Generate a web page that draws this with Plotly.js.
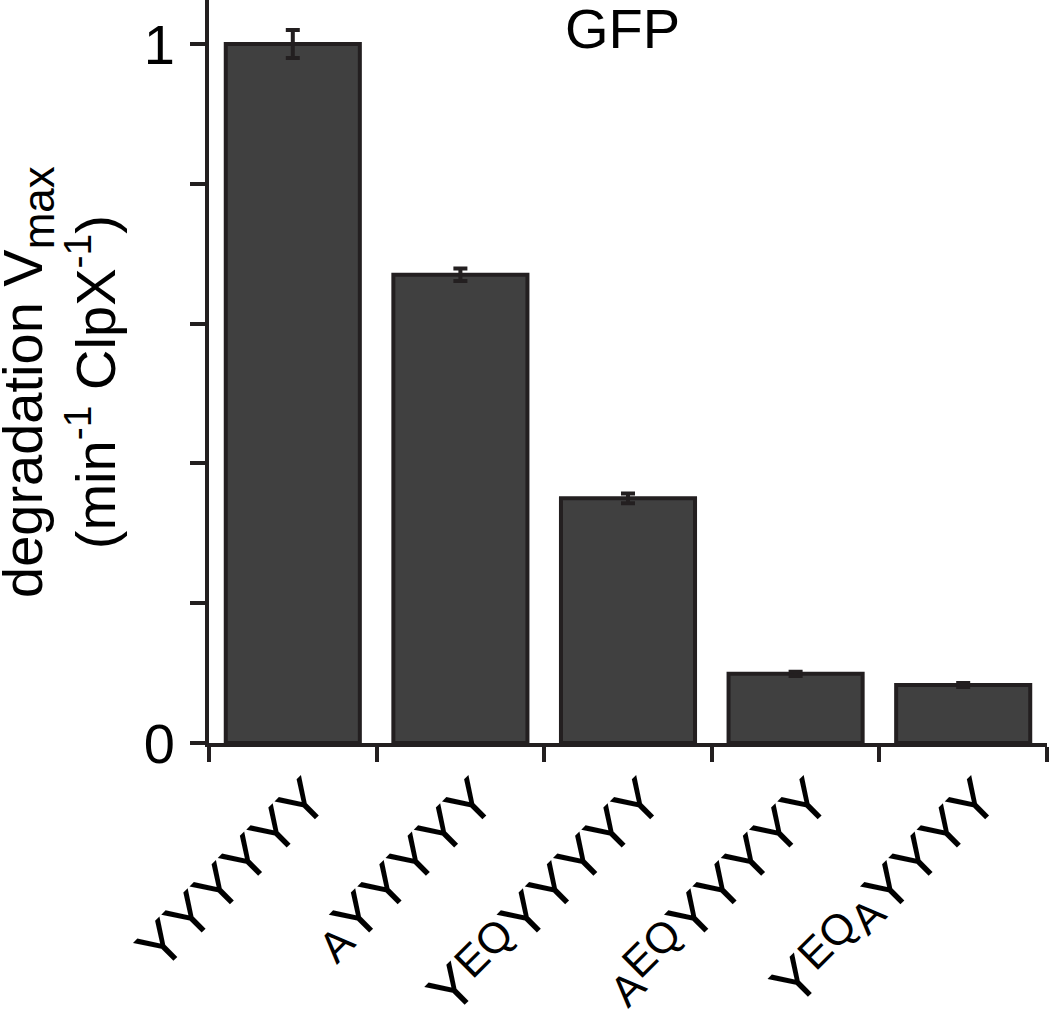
<!DOCTYPE html>
<html>
<head>
<meta charset="utf-8">
<script src="https://cdn.plot.ly/plotly-3.0.1.min.js"></script>
<style>
html,body{margin:0;padding:0;background:#fff;}
#chart{width:1050px;height:1018px;}
</style>
</head>
<body>
<div id="chart"></div>
<script>
// Data
const SMALL = '<span style="font-size:43px">';
const RAISED = '<span style="font-size:43px;baseline-shift:12px">';
const END = '</span>';
const categories = [
  "YYYYYY",
  SMALL + "A" + END + "YYYYY",
  "Y" + RAISED + "EQ" + END + "YYYYY",
  SMALL + "A" + END + RAISED + "EQ" + END + "YYYYY",
  "Y" + RAISED + "EQ" + END + SMALL + "A" + END + "YYYY"
];
const vmax = [1.0, 0.67, 0.35, 0.099, 0.083];
const vmaxErr = [0.02, 0.009, 0.007, 0.003, 0.003];
const yTickVals = [0, 1];
const yTickText = ["0", "1"];
const yMinorStep = 0.2;
const panelLabel = "GFP";
const yTitle = "degradation V<sub><span style=\"font-size:44px\">max</span></sub><br>(min<sup>-1</sup> ClpX<sup>-1</sup>)";

const FONT = "Liberation Sans, Arial, Helvetica, sans-serif";
const INK = "#231f20";

const trace = {
  type: "bar",
  x: categories,
  y: vmax,
  width: 0.8,
  marker: { color: "#404040", line: { color: INK, width: 4 } },
  error_y: { type: "data", array: vmaxErr, visible: true, color: INK, thickness: 4, width: 7 },
  hoverinfo: "skip"
};

const layout = {
  width: 1050,
  height: 1018,
  margin: { l: 209, r: 3, t: 0, b: 275 },
  paper_bgcolor: "#ffffff",
  plot_bgcolor: "#ffffff",
  showlegend: false,
  font: { family: FONT, color: "#000000", size: 56 },
  xaxis: {
    type: "category",
    range: [-0.5, 4.5],
    tickangle: -45,
    ticks: "outside",
    tickson: "boundaries",
    ticklen: 15,
    tickwidth: 4,
    tickcolor: INK,
    ticklabelshift: 17,
    ticklabelstandoff: -7,
    showline: true,
    linecolor: INK,
    linewidth: 4,
    showgrid: false,
    zeroline: false,
    tickfont: { family: FONT, size: 60, color: "#000" }
  },
  yaxis: {
    range: [0, 1.063],
    tickmode: "array",
    tickvals: yTickVals,
    ticktext: yTickText,
    ticks: "outside",
    ticklen: 15,
    tickwidth: 4,
    tickcolor: INK,
    ticklabelstandoff: 4,
    minor: { ticks: "outside", tick0: 0, dtick: yMinorStep, ticklen: 15, tickwidth: 4, tickcolor: INK, showgrid: false },
    showline: true,
    linecolor: INK,
    linewidth: 4,
    showgrid: false,
    zeroline: false,
    tickfont: { family: FONT, size: 56, color: "#000" }
  },
  annotations: [
    {
      text: panelLabel,
      xref: "paper", yref: "paper",
      x: 0.493, y: 1.007,
      xanchor: "center", yanchor: "top",
      showarrow: false,
      font: { family: FONT, size: 56, color: "#000" }
    },
    {
      text: yTitle,
      xref: "paper", yref: "paper",
      x: -220 / 838, y: 1 - 382 / 743,
      xanchor: "left", yanchor: "middle",
      textangle: -90,
      showarrow: false,
      font: { family: FONT, size: 56, color: "#000" }
    }
  ]
};

Plotly.newPlot("chart", [trace], layout, { displayModeBar: false, staticPlot: true });
</script>
</body>
</html>
